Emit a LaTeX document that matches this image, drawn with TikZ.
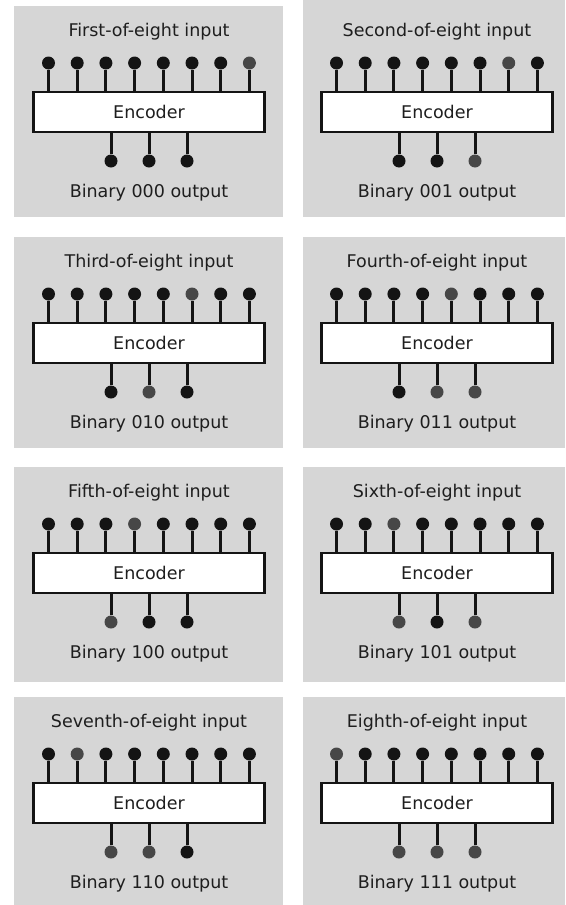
\documentclass[tikz,border=0pt]{standalone}
\usepackage{fontspec}
\setmainfont{DejaVu Sans}
\definecolor{panelgray}{HTML}{D6D6D6}
\definecolor{dotblack}{HTML}{141414}
\definecolor{dothot}{HTML}{474747}
\definecolor{txt}{HTML}{1E1E1E}
\begin{document}
\begin{tikzpicture}[x=1pt,y=-1pt,
  lbl/.style={font=\fontsize{17.5}{20}\selectfont, text=txt, inner sep=0pt},
  encbox/.style={draw=dotblack, line width=2.5pt, fill=white, minimum width=231pt,
    minimum height=40pt, inner sep=0pt, font=\fontsize{17.5}{20}\selectfont, text=txt},
  dot/.style={circle, fill=dotblack, inner sep=0pt, minimum size=13pt},
  hot/.style={dot, fill=dothot},
  stem/.style={line width=3pt, draw=dotblack}]
\useasboundingbox (0,0) rectangle (565,905);
\foreach \n/\ttl/\bits/\h/\ba/\bb/\bc in {
  1/First/000/8/0/0/0, 2/Second/001/7/0/0/1,
  3/Third/010/6/0/1/0, 4/Fourth/011/5/0/1/1,
  5/Fifth/100/4/1/0/0, 6/Sixth/101/3/1/0/1,
  7/Seventh/110/2/1/1/0, 8/Eighth/111/1/1/1/1} {
  \pgfmathtruncatemacro\col{mod(\n-1,2)}
  \pgfmathtruncatemacro\row{div(\n-1,2)}
  \pgfmathsetmacro\ty{{6,237,467,697}[\row]}
  \pgfmathsetmacro\tyb{{217,448,682,905}[\row]}
  \pgfmathsetmacro\tytop{\ty-6*(\col==1)*(\row==0)}
  \pgfmathsetmacro\xa{14+289*\col}
  \pgfmathsetmacro\xb{283+282*\col}
  \pgfmathsetmacro\cx{149+288*\col}
  \fill[panelgray] (\xa,\tytop) rectangle (\xb,\tyb);
  \node[lbl] (title\n) at (\cx,\ty+26) {\ttl-of-eight input};
  \node[lbl] (result\n) at (\cx,\ty+187) {Binary \bits{} output};
  \node[encbox] (box\n) at (\cx,\ty+106) {Encoder};
  \foreach \i in {1,...,8} {
    \ifnum\i=\h\relax\def\st{hot}\else\def\st{dot}\fi
    \node[\st] (in\n-\i) at ({\cx-100.5+(\i-1)*28.7},\ty+57) {};
    \draw[stem] (in\n-\i) -- (in\n-\i |- box\n.north);
  }
  \foreach \j/\bt in {1/\ba,2/\bb,3/\bc} {
    \ifnum\bt=1\relax\def\st{hot}\else\def\st{dot}\fi
    \node[\st] (out\n-\j) at ({\cx+(\j-2)*38},\ty+155) {};
    \draw[stem] (out\n-\j) -- (out\n-\j |- box\n.south);
  }
}
\end{tikzpicture}
\end{document}
